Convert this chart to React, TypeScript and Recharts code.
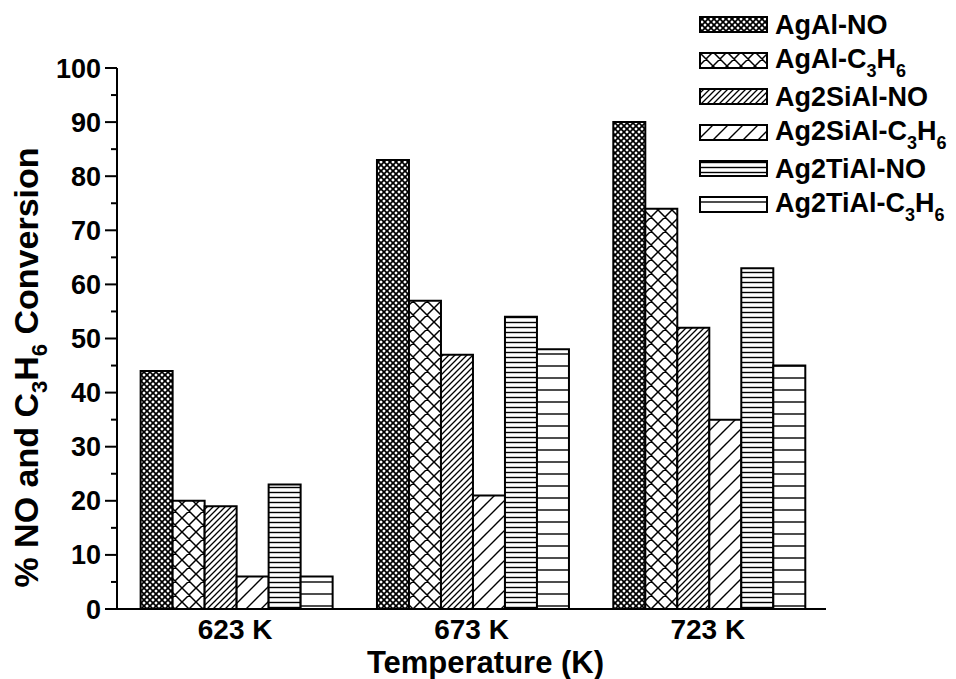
import { Bar, BarChart, Label, Legend, XAxis, YAxis } from "recharts";

const temperatures = ["623 K", "673 K", "723 K"];
const agAlNO = [44, 83, 90];
const agAlC3H6 = [20, 57, 74];
const ag2SiAlNO = [19, 47, 52];
const ag2SiAlC3H6 = [6, 21, 35];
const ag2TiAlNO = [23, 54, 63];
const ag2TiAlC3H6 = [6, 48, 45];

const yTicks = [0, 5, 10, 15, 20, 25, 30, 35, 40, 45, 50, 55, 60, 65, 70, 75, 80, 85, 90, 95, 100];

const series = [
  { key: "agAlNO", name: "AgAl-NO", values: agAlNO, pattern: "pCrossDense" },
  { key: "agAlC3H6", name: "AgAl-C3H6", values: agAlC3H6, pattern: "pCrossWide" },
  { key: "ag2SiAlNO", name: "Ag2SiAl-NO", values: ag2SiAlNO, pattern: "pDiagDense" },
  { key: "ag2SiAlC3H6", name: "Ag2SiAl-C3H6", values: ag2SiAlC3H6, pattern: "pDiagWide" },
  { key: "ag2TiAlNO", name: "Ag2TiAl-NO", values: ag2TiAlNO, pattern: "pHorizDense" },
  { key: "ag2TiAlC3H6", name: "Ag2TiAl-C3H6", values: ag2TiAlC3H6, pattern: "pHorizWide" },
];

const data = temperatures.map((t, i) => {
  const row: Record<string, string | number> = { temperature: t };
  series.forEach((s) => {
    row[s.key] = s.values[i];
  });
  return row;
});

const font = '"Liberation Sans", Arial, sans-serif';

const diag = (s: number) =>
  `M0,${s} L${s},0 M${-s / 4},${s / 4} L${s / 4},${-s / 4} M${(3 * s) / 4},${(5 * s) / 4} L${(5 * s) / 4},${(3 * s) / 4}`;
const back = (s: number) =>
  `M0,0 L${s},${s} M${-s / 4},${(3 * s) / 4} L${s / 4},${(5 * s) / 4} M${(3 * s) / 4},${-s / 4} L${(5 * s) / 4},${s / 4}`;

const Patterns = () => (
  <defs>
    <pattern id="pCrossDense" width={6} height={6} patternUnits="userSpaceOnUse">
      <rect width={6} height={6} fill="#fff" />
      <path d={diag(6) + back(6)} stroke="#000" strokeWidth={1.7} />
    </pattern>
    <pattern id="pCrossWide" width={14} height={14} patternUnits="userSpaceOnUse">
      <rect width={14} height={14} fill="#fff" />
      <path d={diag(14) + back(14)} stroke="#000" strokeWidth={1.5} />
    </pattern>
    <pattern id="pDiagDense" width={6} height={6} patternUnits="userSpaceOnUse">
      <rect width={6} height={6} fill="#fff" />
      <path d={diag(6)} stroke="#000" strokeWidth={1.3} />
    </pattern>
    <pattern id="pDiagWide" width={15} height={15} patternUnits="userSpaceOnUse">
      <rect width={15} height={15} fill="#fff" />
      <path d={diag(15)} stroke="#000" strokeWidth={1.4} />
    </pattern>
    <pattern id="pHorizDense" width={10} height={5} patternUnits="userSpaceOnUse">
      <rect width={10} height={5} fill="#fff" />
      <path d="M0,2.5 L10,2.5" stroke="#000" strokeWidth={1.4} />
    </pattern>
    <pattern id="pHorizWide" width={10} height={12} patternUnits="userSpaceOnUse">
      <rect width={10} height={12} fill="#fff" />
      <path d="M0,6 L10,6" stroke="#000" strokeWidth={1.4} />
    </pattern>
  </defs>
);

const withSubs = (name: string) => {
  const idx = name.indexOf("C3H6");
  if (idx < 0) return name;
  const sub = { fontSize: 18, position: "relative" as const, top: 9 };
  return (
    <>
      {name.slice(0, idx)}C<span style={sub}>3</span>H<span style={sub}>6</span>
    </>
  );
};

const PatternLegend = () => (
  <div style={{ fontFamily: font, fontWeight: "bold", fontSize: 27, color: "#000" }}>
    {series.map((s) => (
      <div key={s.key} style={{ display: "flex", alignItems: "center", height: 36, whiteSpace: "nowrap" }}>
        <svg width={70} height={18} style={{ marginRight: 6 }}>
          <rect x={1} y={1} width={67} height={15} fill={`url(#${s.pattern})`} stroke="#000" strokeWidth={2} />
        </svg>
        <span style={{ lineHeight: "27px" }}>{withSubs(s.name)}</span>
      </div>
    ))}
  </div>
);

const YTick = (props: any) => {
  const { x, y, payload } = props;
  const major = payload.value % 10 === 0;
  return (
    <g>
      <line x1={x - (major ? 12 : 6)} x2={x} y1={y} y2={y} stroke="#000" strokeWidth={2} />
      {major && (
        <text x={x - 16} y={y} dy={9.5} textAnchor="end" fontFamily={font} fontWeight="bold" fontSize={27} fill="#000">
          {payload.value}
        </text>
      )}
    </g>
  );
};

const YTitle = (props: any) => {
  const { viewBox } = props;
  const x = viewBox.x + 38;
  const y = viewBox.y + viewBox.height / 2 + 29;
  return (
    <text
      x={x}
      y={y}
      transform={`rotate(-90, ${x}, ${y})`}
      textAnchor="middle"
      fontFamily={font}
      fontWeight="bold"
      fontSize={34}
      fill="#000"
    >
      % NO and C
      <tspan fontSize={22} dy={9}>3</tspan>
      <tspan dy={-9}>H</tspan>
      <tspan fontSize={22} dy={9}>6</tspan>
      <tspan dy={-9}> Conversion</tspan>
    </text>
  );
};

const XTitle = (props: any) => {
  const { viewBox } = props;
  return (
    <text
      x={viewBox.x + viewBox.width / 2 + 14}
      y={viewBox.y + 64}
      textAnchor="middle"
      fontFamily={font}
      fontWeight="bold"
      fontSize={31}
      fill="#000"
    >
      Temperature (K)
    </text>
  );
};

const App = () => {
  return (
    <div style={{ position: "absolute", left: 0, top: 0, background: "#fff" }}>
      <BarChart
        width={956}
        height={679}
        data={data}
        margin={{ top: 68, right: 130, bottom: 0, left: 0 }}
        barCategoryGap="10%"
        barGap={0}
      >
        <Patterns />
        <XAxis
          dataKey="temperature"
          height={70}
          tickLine={false}
          tickSize={0}
          tickMargin={10}
          axisLine={{ stroke: "#000", strokeWidth: 2 }}
          tick={{ fill: "#000", fontSize: 28, fontWeight: "bold", fontFamily: font }}
        >
          <Label content={<XTitle />} />
        </XAxis>
        <YAxis
          width={117}
          domain={[0, 100]}
          ticks={yTicks}
          interval={0}
          tickLine={false}
          tickSize={0}
          tickMargin={0}
          axisLine={{ stroke: "#000", strokeWidth: 2 }}
          tick={<YTick />}
        >
          <Label content={<YTitle />} />
        </YAxis>
        {series.map((s) => (
          <Bar
            key={s.key}
            dataKey={s.key}
            name={s.name}
            fill={`url(#${s.pattern})`}
            stroke="#000"
            strokeWidth={2}
            isAnimationActive={false}
          />
        ))}
        <Legend
          layout="horizontal"
          align="center"
          verticalAlign="middle"
          wrapperStyle={{ left: 699, top: 7, width: 257, height: 220 }}
          content={<PatternLegend />}
        />
      </BarChart>
    </div>
  );
};

export default App;
